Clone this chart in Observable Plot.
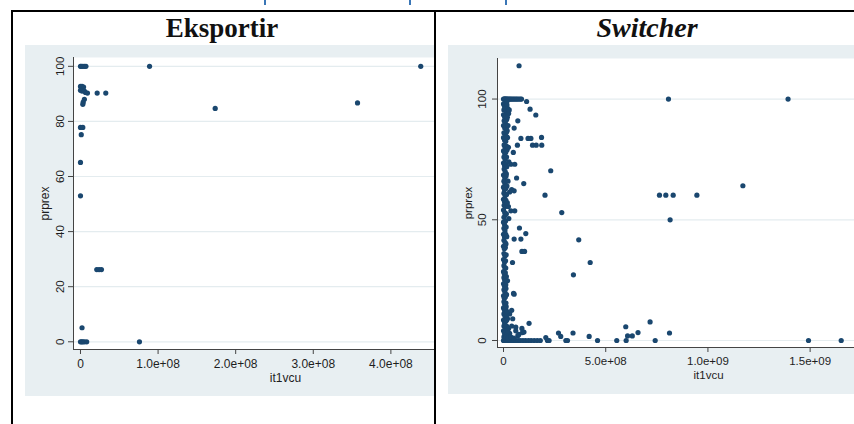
<!DOCTYPE html>
<html><head><meta charset="utf-8">
<script src="https://cdn.jsdelivr.net/npm/d3@7"></script>
<script src="https://cdn.jsdelivr.net/npm/@observablehq/plot@0.6"></script>
<style>
html,body{margin:0;padding:0;background:#fff;}
#page{position:relative;width:854px;height:424px;overflow:hidden;font-family:"Liberation Sans",Arial,sans-serif;}
.line{position:absolute;background:#000;}
.title{position:absolute;text-align:center;font-family:"Liberation Serif","Times New Roman",serif;font-weight:bold;color:#111;line-height:28px;white-space:nowrap;}
.panel{position:absolute;overflow:hidden;}
.panel svg{max-width:none !important;height:auto;display:block;}
.mark{position:absolute;top:0;width:2px;height:5px;background:#3a76b6;}
</style></head>
<body><div id="page">
  <div class="mark" style="left:264px"></div>
  <div class="mark" style="left:409px"></div>
  <div class="mark" style="left:505px"></div>
  <div class="line" style="left:11px;top:10px;width:843px;height:2px"></div>
  <div class="line" style="left:11px;top:10px;width:2px;height:414px"></div>
  <div class="line" style="left:434px;top:10px;width:2px;height:414px"></div>
  <div class="title" style="left:11px;top:14px;width:422px;font-size:27px">Eksportir</div>
  <div class="title" style="left:438px;top:14px;width:418px;font-size:28px;font-style:italic">Switcher</div>
  <div class="panel" id="left" style="left:25px;top:45px;width:409px;height:351px"></div>
  <div class="panel" id="right" style="left:448px;top:45px;width:406px;height:349px"></div>
</div>
<script>
// ---- Data: Eksportir (left panel) ----
const eksportirIt1vcu = [0, 1.0e6, 3.0e6, 5.0e6, 7.0e6, 8.9e7, 4.385e8,
  0, 2.0e6, 4.0e6,
  0, 2.0e6, 5.0e6, 6.5e6, 9.0e6, 2.15e7, 3.26e7,
  5.0e6, 3.5e6, 3.0e6,
  1.736e8, 3.57e8,
  0, 3.0e6, 1.0e6,
  0, 0,
  2.1e7, 2.4e7, 2.7e7,
  2.0e6,
  0, 1.5e6, 3.0e6, 5.0e6, 8.0e6, 7.6e7];
const eksportirPrprex = [100, 100, 100, 100, 100, 100, 100,
  92.7, 92.7, 92.5,
  91.3, 91, 91, 90.5, 90.3, 90.3, 90.3,
  88, 87, 86.2,
  84.7, 86.7,
  77.8, 77.8, 75.2,
  65.1, 53,
  26.2, 26.2, 26.2,
  5.1,
  0, 0, 0, 0, 0, 0];

// ---- Data: Switcher (right panel), [it1vcu in millions, prprex] ----
const switcherPoints = [
  [0,100],[3,100],[6,100],[9,100],[12,100],[15,100],[19,100],[23,100],[28,100],[33,100],[38,100],[44,100],[50,100],[56,100],[62,100],[68,100],[75,100],[82,100],[88,100],
  [76,113.8],[807,100],[1392,100],
  [113,99],[130,95.8],[158,93.4],[70,91],[52,88],[85,83.7],[120,83.7],[134,83.7],[186,84.1],[68,80.9],[142,80.9],[160,80.9],[187,80.9],
  [48,77.9],[36,73],[55,73],[231,70.3],[64,67.3],[99,65],[52,62],[40,62.5],[30,61.5],[203,60.2],[763,60.2],[794,60.2],[830,60.2],[946,60.2],[1171,64.1],
  [285,53],[815,50],[36,53.7],[55,53.7],[78,46.6],[109,44.3],[52,42],[85,42],[368,41.7],[90,36.9],[103,36.9],[424,32.3],[44,32.3],[342,27.2],[20,24.7],
  [52,19.2],[49,19.5],[125,7.1],[30,11],[45,9],[60,5.5],[93,3.3],[70,2],[40,12.5],
  [598,5.7],[717,7.7],[658,3.3],[812,3.1],[340,3.1],[269,3.1],[419,1.7],[607,1.9],[630,1.9],[60,4],[100,3.5],[207,1.2],[280,1.7],[75,2.5],[90,5],[40,6],[30,3],
  [0,0],[4,0],[8,0],[13,0],[18,0],[24,0],[30,0],[37,0],[45,0],[53,0],[62,0],[72,0],[82,0],[95,0],[108,0],[122,0],[135,0],[150,0],[165,0],[180,0],[215,0],[223,0],[305,0],[313,0],[460,0],[554,0],[600,0],[742,0],[1492,0],[1652,0],
  [0,98],[5,97],[11,98.5],[17,97.5],[2,95.5],[8,96],[14,94.5],[21,96],[0,93.5],[6,92.5],[12,93],[25,94],[3,91],[9,90],[16,91.5],
  [0,89],[6,88],[13,87.5],[22,89],[2,86],[9,85.5],[16,86.5],[0,84],[5,83],[11,82.5],[20,84],[3,81],[8,80],[14,80.5],
  [0,78.5],[6,77.5],[11,78],[2,76],[8,75],[15,76],[0,73.5],[5,72.5],[10,73],[26,74],[3,71],[8,70],[0,68.5],[6,67.5],[12,68],
  [2,66],[7,65],[0,63.5],[5,62.5],[11,63],[2,61],[8,60],[0,58.5],[5,57.5],[12,58],[3,56],[9,55.5],[16,56],[24,55.5],[0,54],[6,53],
  [2,51],[8,52],[0,49],[5,48],[10,49.5],[2,46.5],[7,45.5],[0,44],[5,43],[11,44],[2,41.5],[8,40.5],[0,39],[4,38],[9,38.5],
  [2,36],[7,35],[0,33.5],[5,32.5],[10,33],[2,31],[7,30],[0,28.5],[4,27.5],[9,28],[2,26],[6,25],[0,23.5],[5,22.5],[11,23],
  [2,21],[7,20],[0,18.5],[4,17.5],[9,18],[2,16],[6,15],[12,15.5],[0,13.5],[5,12.5],[10,13],[2,11],[8,10],[15,10.5],
  [0,8.5],[5,7.5],[11,8],[20,9],[2,6],[8,5.5],[15,6],[25,5],[0,4],[5,3],[11,3.5],[18,2.5],[2,1.5],[8,1],[14,1.5],[22,1],[35,1.5],[50,1],
  [17,99],[19,92.5],[18,87],[15,84.5],[18,79],[16,72],[14,69],[17,64],[15,60.5],[19,57],[14,52.5],[13,47],[16,43],[12,40],
  [13,35.5],[11,30],[14,26.5],[12,21.5],[15,19],[13,14],[18,12],[16,8.5],[20,4],[28,95.5],[24,80],[22,66],[26,50.5]
];

// ---- Axis ticks and labels ----
const leftXTicks = [0, 1e8, 2e8, 3e8, 4e8];
const leftXTickLabels = ["0", "1.0e+08", "2.0e+08", "3.0e+08", "4.0e+08"];
const leftYTicks = [0, 20, 40, 60, 80, 100];
const rightXTicks = [0, 5e8, 1e9, 1.5e9];
const rightXTickLabels = ["0", "5.0e+08", "1.0e+09", "1.5e+09"];
const rightYTicks = [0, 50, 100];
const xTitle = "it1vcu";
const yTitle = "prprex";

const navy = "#1a476f";
const regionBg = "#e8eff2";
const gridColor = "#e4ecef";
const axisColor = "#444";

function panel(o) {
  const labelOf = new Map(o.xTicks.map((t, i) => [t, o.xTickLabels[i]]));
  const svg = Plot.plot({
    width: o.width, height: o.height,
    marginLeft: o.ml, marginTop: o.mt, marginRight: o.mr, marginBottom: o.mb,
    style: {background: regionBg, fontFamily: "'Liberation Sans', Arial, sans-serif", fontSize: "12px", color: "#1e1e1e", overflow: "visible", maxWidth: "none"},
    x: {type: "linear", domain: o.xDomain},
    y: {type: "linear", domain: o.yDomain},
    marks: [
      Plot.frame({fill: "white", stroke: null}),
      Plot.gridY(o.yTicks, {stroke: gridColor, strokeOpacity: 1, strokeWidth: 1.2}),
      Plot.ruleX([o.xDomain[0]], {stroke: axisColor}),
      Plot.ruleY([o.yDomain[0]], {stroke: axisColor}),
      Plot.axisY({ticks: o.yTicks, tickSize: 5, tickFormat: () => "", label: null, stroke: axisColor}),
      Plot.axisX({ticks: o.xTicks, tickSize: 5, tickPadding: o.xPad, tickFormat: d => labelOf.get(d), label: null, stroke: axisColor, fontSize: o.fs}),
      Plot.text(o.yTicks, {y: d => d, frameAnchor: "left", dx: o.yLabDx, rotate: -90, textAnchor: "middle", lineAnchor: "middle", fontSize: 11.5}),
      Plot.text([yTitle], {frameAnchor: "left", dx: o.yTitleDx, rotate: -90, textAnchor: "middle", lineAnchor: "middle", fontSize: o.fs}),
      Plot.text([xTitle], {frameAnchor: "bottom", dy: o.xTitleDy, textAnchor: "middle", lineAnchor: "middle", fontSize: o.fs}),
      Plot.dot(o.data, {x: o.x, y: o.y, r: 2.6, fill: navy, stroke: null})
    ]
  });
  svg.style.maxWidth = "none";
  svg.style.width = o.width + "px";
  svg.style.height = o.height + "px";
  return svg;
}

const leftData = eksportirIt1vcu.map((v, i) => ({x: v, y: eksportirPrprex[i]}));
document.getElementById("left").append(panel({
  width: 484, height: 351, ml: 48, mt: 12, mr: 12, mb: 47,
  xDomain: [-9.0e6, 5.374e8], yDomain: [-2.8, 103.2],
  xTicks: leftXTicks, xTickLabels: leftXTickLabels, yTicks: leftYTicks,
  xPad: 5, yLabDx: -13, yTitleDx: -28, xTitleDy: 29, fs: 12,
  data: leftData, x: "x", y: "y"
}));

document.getElementById("right").append(panel({
  width: 483, height: 349, ml: 49, mt: 13, mr: 12, mb: 47,
  xDomain: [-2.94e7, 2.035e9], yDomain: [-2.9, 116.8],
  xTicks: rightXTicks, xTickLabels: rightXTickLabels, yTicks: rightYTicks,
  xPad: 4.5, yLabDx: -15, yTitleDx: -29, xTitleDy: 28, fs: 11.5,
  data: switcherPoints, x: d => d[0] * 1e6, y: d => d[1]
}));
</script>
</body></html>
